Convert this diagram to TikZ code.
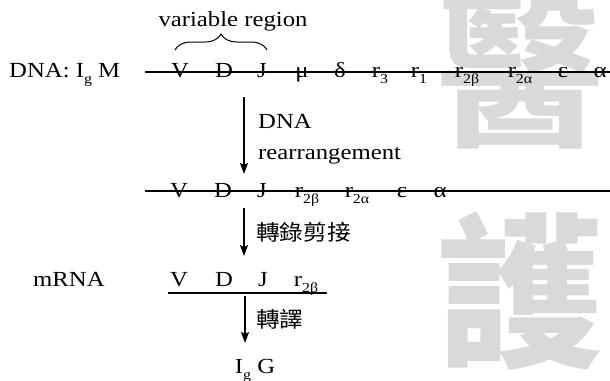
\documentclass[tikz,border=0pt]{standalone}
\usepackage{fontspec}
\setmainfont{Liberation Serif}[FakeStretch=1.15]
\newfontfamily\cjk{Noto Sans CJK TC}[FakeStretch=1.1]
\newfontfamily\cjkwm{Noto Sans CJK TC}
\usetikzlibrary{arrows.meta,decorations.pathreplacing}
\newcommand\sbs[1]{\raisebox{-0.28em}{\fontsize{13.8}{14}\selectfont #1}}
\definecolor{wm}{RGB}{217,217,217}
\tikzset{
  lbl/.style={anchor=base,inner sep=0pt,font=\fontsize{21.5}{24}\selectfont},
  txt/.style={anchor=base west,inner sep=0pt,font=\fontsize{21.5}{24}\selectfont},
  cjklbl/.style={anchor=west,inner sep=0pt,font=\cjk\fontsize{21.5}{24}\selectfont},
  strand/.style={line width=1.3pt},
  flow/.style={line width=1.8pt,-{Stealth[length=11pt,width=8pt,inset=2pt]}},
  wmark/.style={inner sep=0pt,text=wm,font=\cjkwm\bfseries\fontsize{166}{168}\selectfont}
}
\begin{document}
\begin{tikzpicture}[x=1pt,y=-1pt]
\useasboundingbox (0,0) rectangle (610,380);
% watermark
\node[wmark] (w1) at (520,72) {醫};
\node[wmark] (w2) at (520,291) {護};
% variable region
\node[lbl] (vr) at (233,26) {variable region};
\coordinate (b1) at (175,50);
\coordinate (b2) at (267,50);
\draw[line width=1pt,decorate,decoration={brace,amplitude=16pt}] (b1) -- (b2);
% line 1
\node[txt] (dna) at (9,77.5) {DNA: I\sbs{g} M};
\coordinate (l1a) at (145,72);
\coordinate (l1b) at (610,72);
\draw[strand] (l1a) -- (l1b);
\node[lbl] (v1) at (180,77.5) {V};
\node[lbl] (d1) at (224,77.5) {D};
\node[lbl] (j1) at (262,77.5) {J};
\node[lbl] (mu1) at (302,77.5) {μ};
\node[lbl] (de1) at (340,77.5) {δ};
\node[lbl] (r31) at (380,77.5) {r\sbs{3}};
\node[lbl] (r11) at (419,77.5) {r\sbs{1}};
\node[lbl] (rb1) at (467,77.5) {r\sbs{2β}};
\node[lbl] (ra1) at (520,77.5) {r\sbs{2α}};
\node[lbl] (e1) at (563,77.5) {ε};
\node[lbl] (a1) at (600,77.5) {α};
% arrow 1
\coordinate (ar1a) at (244,97);
\coordinate (ar1b) at (244,174);
\draw[flow] (ar1a) -- (ar1b);
\node[txt] (t1) at (258,128) {DNA};
\node[txt] (t2) at (258,159) {rearrangement};
% line 2
\coordinate (l2a) at (145,191);
\coordinate (l2b) at (610,191);
\draw[strand] (l2a) -- (l2b);
\node[lbl] (v2) at (179,197) {V};
\node[lbl] (d2) at (223,197) {D};
\node[lbl] (j2) at (262,197) {J};
\node[lbl] (rb2) at (307,197) {r\sbs{2β}};
\node[lbl] (ra2) at (357,197) {r\sbs{2α}};
\node[lbl] (e2) at (402,197) {ε};
\node[lbl] (a2) at (440,197) {α};
% arrow 2
\coordinate (ar2a) at (244,208);
\coordinate (ar2b) at (244,256);
\draw[flow] (ar2a) -- (ar2b);
\node[cjklbl] (c1) at (256,232) {轉錄剪接};
% mRNA
\node[txt] (mrna) at (33,286.7) {mRNA};
\node[lbl] (v3) at (179,286.7) {V};
\node[lbl] (d3) at (224,286.7) {D};
\node[lbl] (j3) at (263,286.7) {J};
\node[lbl] (rb3) at (306,286.7) {r\sbs{2β}};
\coordinate (l3a) at (168,293);
\coordinate (l3b) at (327,293);
\draw[strand] (l3a) -- (l3b);
% arrow 3
\coordinate (ar3a) at (245,296);
\coordinate (ar3b) at (245,343);
\draw[flow] (ar3a) -- (ar3b);
\node[cjklbl] (c2) at (256,319) {轉譯};
\node[lbl] (igg) at (255,373) {I\sbs{g} G};
\end{tikzpicture}
\end{document}
